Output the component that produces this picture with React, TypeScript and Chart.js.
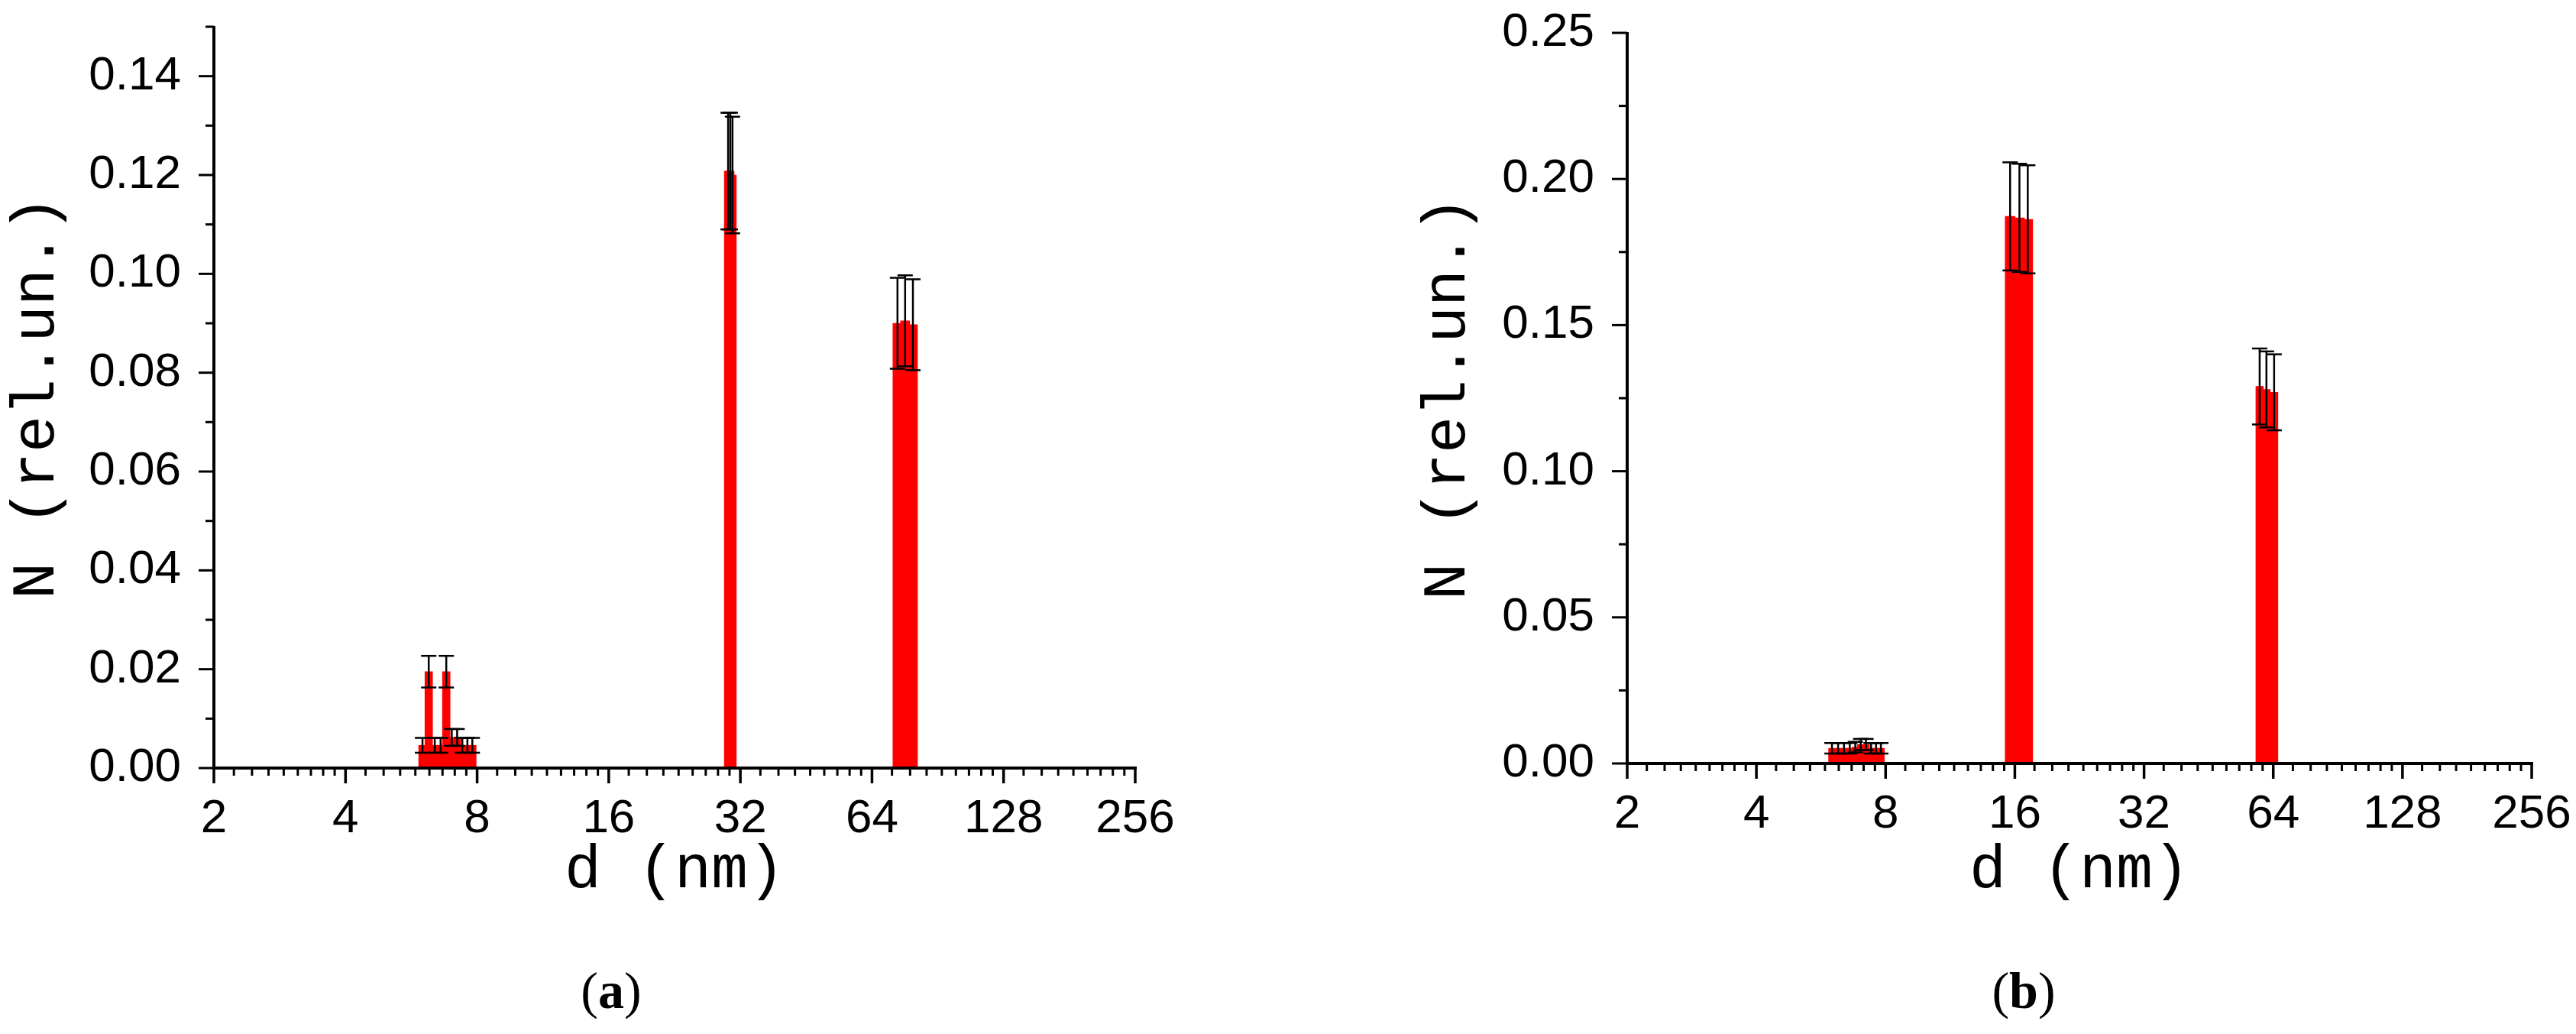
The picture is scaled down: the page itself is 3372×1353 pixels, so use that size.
import React, { useEffect, useRef } from 'react';
import { Chart, registerables } from 'chart.js';

Chart.register(...registerables);

// ---------- data ----------
const X_TICKS = [2, 4, 8, 16, 32, 64, 128, 256];

const Y_TICKS_A = [0, 0.02, 0.04, 0.06, 0.08, 0.1, 0.12, 0.14];
const Y_MINOR_A = [0.01, 0.03, 0.05, 0.07, 0.09, 0.11, 0.13, 0.15];
const Y_TICKS_B = [0, 0.05, 0.1, 0.15, 0.2, 0.25];
const Y_MINOR_B = [0.025, 0.075, 0.125, 0.175, 0.225];

// panel (a)
const A_SMALL_D = [6.0, 6.2, 6.4, 6.6, 6.8, 7.0, 7.2, 7.4, 7.6, 7.8];
const A_SMALL_N = [0.0046, 0.0195, 0.0046, 0.0046, 0.0195, 0.0062, 0.0062, 0.0046, 0.0046, 0.0046];
const A_SMALL_ERR = [0.0015, 0.0032, 0.0015, 0.0015, 0.0032, 0.0017, 0.0017, 0.0015, 0.0015, 0.0015];
const A_MID_D = [30.0, 30.35, 30.7];
const A_MID_N = [0.1208, 0.1208, 0.12];
const A_MID_ERR = [0.0118, 0.0118, 0.0118];
const A_LARGE_D = [73.2, 76.2, 79.4];
const A_LARGE_N = [0.09, 0.0905, 0.0897];
const A_LARGE_ERR = [0.0092, 0.0092, 0.0092];

// panel (b)
const B_SMALL_D = [6.0, 6.2, 6.4, 6.6, 6.8, 7.0, 7.2, 7.4, 7.6, 7.8];
const B_SMALL_N = [0.0052, 0.0052, 0.0052, 0.0052, 0.0056, 0.0065, 0.0065, 0.0052, 0.0052, 0.0052];
const B_SMALL_ERR = [0.0018, 0.0018, 0.0018, 0.0018, 0.0018, 0.0019, 0.0019, 0.0018, 0.0018, 0.0018];
const B_MID_D = [15.6, 16.4, 17.15];
const B_MID_N = [0.1872, 0.1867, 0.1862];
const B_MID_ERR = [0.0185, 0.0185, 0.0185];
const B_LARGE_D = [59.5, 61.7, 64.3];
const B_LARGE_N = [0.129, 0.128, 0.127];
const B_LARGE_ERR = [0.013, 0.013, 0.013];

// ---------- styles ----------
const RED = '#ff0000';
const TICK_FONT = { family: "'Liberation Sans', Arial, sans-serif", size: 62 };
const TITLE_FONT = { family: "'Liberation Mono', 'Courier New', monospace", size: 80 };

function series(d: number[], n: number[], err: number[], thickness: number) {
  return {
    data: d.map((x, i) => ({ x, y: n[i] })),
    errorBars: err,
    backgroundColor: RED,
    borderWidth: 0,
    barThickness: thickness,
    grouped: false,
  };
}

const originAxes = {
  id: 'originAxes',
  afterDatasetsDraw(chart: any, _args: any, opts: any) {
    const ctx = chart.ctx;
    const { left, right, top, bottom } = chart.chartArea;
    const xs = chart.scales.x;
    const ys = chart.scales.y;
    ctx.save();
    ctx.strokeStyle = '#000';
    ctx.lineCap = 'butt';
    const line = (x1: number, y1: number, x2: number, y2: number) => {
      ctx.beginPath();
      ctx.moveTo(x1, y1);
      ctx.lineTo(x2, y2);
      ctx.stroke();
    };
    // error bars
    chart.data.datasets.forEach((ds: any, i: number) => {
      const meta = chart.getDatasetMeta(i);
      const errs = ds.errorBars;
      if (!errs) return;
      meta.data.forEach((el: any, j: number) => {
        const v = ds.data[j].y;
        const e = errs[j];
        const x = el.x;
        const y1 = ys.getPixelForValue(v + e);
        const y2 = ys.getPixelForValue(v - e);
        ctx.lineWidth = 2.5;
        line(x, y1, x, y2);
        line(x - 10, y1, x + 10, y1);
        line(x - 10, y2, x + 10, y2);
      });
    });
    // axis lines
    ctx.lineWidth = 4;
    line(left, top - 1, left, bottom + 2);
    line(left - 2, bottom, right + 2, bottom);
    // y ticks
    ctx.lineWidth = 3;
    (opts.yMajor || []).forEach((v: number) => {
      const y = ys.getPixelForValue(v);
      line(left - 20, y, left, y);
    });
    (opts.yMinor || []).forEach((v: number) => {
      const y = ys.getPixelForValue(v);
      line(left - 11, y, left, y);
    });
    // x ticks (log2 with 8 minor ticks per octave)
    X_TICKS.forEach((a, k) => {
      const x = xs.getPixelForValue(a);
      ctx.lineWidth = 3.5;
      line(x, bottom, x, bottom + 20);
      if (k < X_TICKS.length - 1) {
        ctx.lineWidth = 3;
        for (let m = 1; m <= 8; m++) {
          const xm = xs.getPixelForValue(a * (1 + m / 9));
          line(xm, bottom, xm, bottom + 10);
        }
      }
    });
    ctx.restore();
  },
};

type Spec = {
  width: number;
  height: number;
  padLeft: number;
  padTop: number;
  padRight: number;
  yWidth: number;
  xHeight: number;
  yMax: number;
  yTicks: number[];
  yMinor: number[];
  datasets: any[];
};

const SPEC_A: Spec = {
  width: 1690,
  height: 1200,
  padLeft: 0,
  padTop: 35,
  padRight: 204,
  yWidth: 280,
  xHeight: 195,
  yMax: 0.15,
  yTicks: Y_TICKS_A,
  yMinor: Y_MINOR_A,
  datasets: [
    series(A_SMALL_D, A_SMALL_N, A_SMALL_ERR, 10),
    series(A_MID_D, A_MID_N, A_MID_ERR, 10),
    series(A_LARGE_D, A_LARGE_N, A_LARGE_ERR, 12),
  ],
};

const SPEC_B: Spec = {
  width: 1682,
  height: 1200,
  padLeft: 157,
  padTop: 43,
  padRight: 58,
  yWidth: 283,
  xHeight: 201,
  yMax: 0.25,
  yTicks: Y_TICKS_B,
  yMinor: Y_MINOR_B,
  datasets: [
    series(B_SMALL_D, B_SMALL_N, B_SMALL_ERR, 9),
    series(B_MID_D, B_MID_N, B_MID_ERR, 13),
    series(B_LARGE_D, B_LARGE_N, B_LARGE_ERR, 10),
  ],
};

function Panel({ spec, left }: { spec: Spec; left: number }) {
  const ref = useRef<HTMLCanvasElement | null>(null);
  useEffect(() => {
    if (!ref.current) return;
    const chart = new Chart(ref.current, {
      type: 'bar',
      data: { datasets: spec.datasets },
      plugins: [originAxes],
      options: {
        animation: false,
        responsive: false,
        devicePixelRatio: 1,
        events: [],
        layout: { padding: { left: spec.padLeft, top: spec.padTop, right: spec.padRight, bottom: 0 } },
        plugins: {
          legend: { display: false },
          tooltip: { enabled: false },
          originAxes: { yMajor: spec.yTicks, yMinor: spec.yMinor },
        } as any,
        scales: {
          x: {
            type: 'logarithmic',
            min: 2,
            max: 256,
            grid: { display: false },
            border: { display: false },
            ticks: {
              font: TICK_FONT,
              color: '#000',
              padding: 22,
              maxRotation: 0,
              autoSkip: false,
              callback: (v: any) => String(v),
            },
            afterBuildTicks: (s: any) => {
              s.ticks = X_TICKS.map((value) => ({ value }));
            },
            afterFit: (s: any) => {
              s.height = spec.xHeight;
              s.paddingLeft = 0;
              s.paddingRight = 0;
            },
            title: {
              display: true,
              text: 'd (nm)',
              font: TITLE_FONT,
              color: '#000',
              padding: { top: 0, bottom: 12 },
            },
          },
          y: {
            type: 'linear',
            min: 0,
            max: spec.yMax,
            grid: { display: false },
            border: { display: false },
            ticks: {
              font: TICK_FONT,
              color: '#000',
              padding: 35,
              callback: (v: any) => Number(v).toFixed(2),
            },
            afterBuildTicks: (s: any) => {
              s.ticks = spec.yTicks.map((value) => ({ value }));
            },
            afterFit: (s: any) => {
              s.width = spec.yWidth;
              s.paddingTop = 0;
              s.paddingBottom = 0;
            },
            title: {
              display: true,
              text: 'N (rel.un.)',
              font: TITLE_FONT,
              color: '#000',
              padding: { top: 1, bottom: 0 },
            },
          },
        } as any,
      } as any,
    });
    return () => chart.destroy();
  }, [spec]);
  return (
    <canvas
      ref={ref}
      width={spec.width}
      height={spec.height}
      style={{ position: 'absolute', left, top: 0, width: spec.width, height: spec.height }}
    />
  );
}

const labelStyle: React.CSSProperties = {
  position: 'absolute',
  top: 1262,
  width: 200,
  textAlign: 'center',
  fontFamily: "'Liberation Serif', 'Times New Roman', serif",
  fontSize: 68,
  lineHeight: '68px',
  color: '#000',
};

export default function App() {
  return (
    <div
      style={{
        position: 'absolute',
        left: 0,
        top: 0,
        width: 3372,
        height: 1353,
        background: '#fff',
        overflow: 'hidden',
      }}
    >
      <Panel spec={SPEC_A} left={0} />
      <Panel spec={SPEC_B} left={1690} />
      <div style={{ ...labelStyle, left: 700 }}>
        (<b>a</b>)
      </div>
      <div style={{ ...labelStyle, left: 2549 }}>
        (<b>b</b>)
      </div>
    </div>
  );
}
